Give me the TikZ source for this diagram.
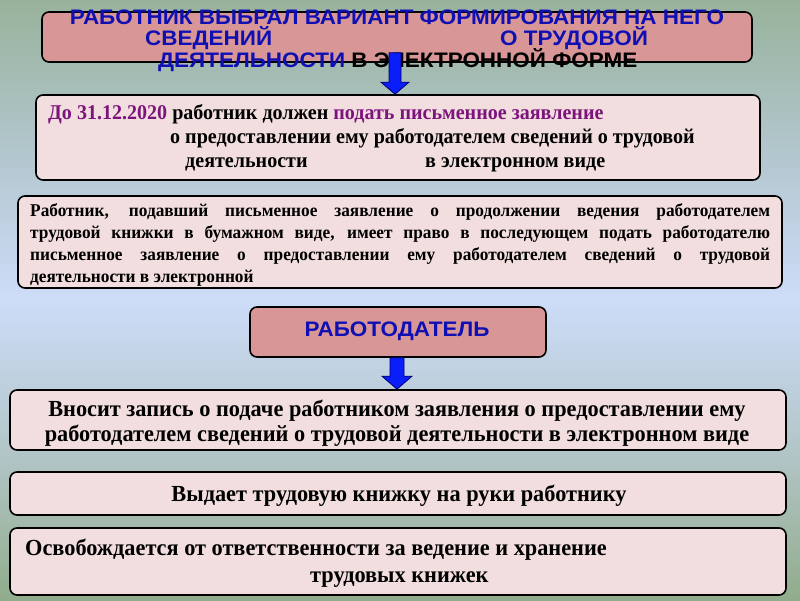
\documentclass[tikz,border=0pt]{standalone}
\usepackage{fontspec}
\setmainfont{Liberation Serif}
\newfontfamily\hdr[FakeStretch=1.07]{Liberation Sans}
\newfontfamily\serc[FakeStretch=0.955]{Liberation Serif}
\newfontfamily\serp[FakeStretch=0.96]{Liberation Serif}
\newfontfamily\serb[FakeStretch=0.97]{Liberation Serif}
\usetikzlibrary{arrows.meta,calc}
\definecolor{dpink}{RGB}{217,150,150}
\definecolor{lpink}{RGB}{242,222,222}
\definecolor{hblue}{RGB}{15,15,180}
\definecolor{purp}{RGB}{125,20,125}
\definecolor{arrblue}{RGB}{10,30,250}
\definecolor{arrdark}{RGB}{0,0,110}
\pgfdeclareverticalshading{bgshade}{100bp}{%
  color(0bp)=(rgb,255:red,145;green,172;blue,140);
  color(25bp)=(rgb,255:red,145;green,172;blue,140);
  color(37.5bp)=(rgb,255:red,178;green,198;blue,200);
  color(50bp)=(rgb,255:red,205;green,220;blue,248);
  color(62.5bp)=(rgb,255:red,178;green,198;blue,205);
  color(75bp)=(rgb,255:red,152;green,178;blue,155);
  color(100bp)=(rgb,255:red,152;green,178;blue,155)}
\tikzset{
  box/.style={draw=black, line width=1.6pt, rounded corners=7pt, inner sep=0pt},
  darkbox/.style={box, fill=dpink},
  lightbox/.style={box, fill=lpink},
  hdrtxt/.style={font=\hdr\bfseries\fontsize{21}{23}\selectfont, inner sep=0pt},
  sertxt/.style={font=\serc\bfseries\fontsize{21}{24}\selectfont, inner sep=0pt},
  partxt/.style={font=\serp\bfseries\fontsize{18}{22}\selectfont, inner sep=0pt},
  bigtxt/.style={font=\serb\bfseries\fontsize{23}{25}\selectfont, inner sep=0pt},
  blockarrow/.style={fill=arrblue, draw=arrdark, line width=0.8pt, line join=miter}
}
\begin{document}
\begin{tikzpicture}[x=1pt,y=-1pt]
\useasboundingbox (0,0) rectangle (800,600);
\shade[shading=bgshade] (0,0) rectangle (800,600);

% boxes
\node[darkbox, minimum width=710, minimum height=50] (top) at (397,37) {};
\node[lightbox, minimum width=724, minimum height=85] (b2) at (398,137.5) {};
\node[lightbox, minimum width=764, minimum height=92] (b3) at (400,242) {};
\node[darkbox, minimum width=296, minimum height=50] (emp) at (398,332) {};
\node[lightbox, minimum width=776, minimum height=60] (b5) at (398,420) {};
\node[lightbox, minimum width=776, minimum height=43] (b6) at (398,493.5) {};
\node[lightbox, minimum width=776, minimum height=67] (b7) at (398,561.5) {};

% top text
\node[hdrtxt, anchor=base, text=hblue] (t1) at (397,24) {РАБОТНИК ВЫБРАЛ ВАРИАНТ ФОРМИРОВАНИЯ НА НЕГО};
\node[hdrtxt, anchor=base west, text=hblue] (t2a) at (145,45) {СВЕДЕНИЙ};
\node[hdrtxt, anchor=base west, text=hblue] (t2b) at (500,45) {О ТРУДОВОЙ};
\node[hdrtxt, anchor=base west] (t3) at (158,67) {\textcolor{hblue}{ДЕЯТЕЛЬНОСТИ} В ЭЛЕКТРОННОЙ ФОРМЕ};

% box 2 text
\node[sertxt, anchor=base west] (l21) at (48,119) {\textcolor{purp}{До 31.12.2020} работник должен \textcolor{purp}{подать письменное заявление}};
\node[sertxt, anchor=base west] (l22) at (170,143) {о предоставлении ему работодателем сведений о трудовой};
\node[sertxt, anchor=base west] (l23a) at (185,167) {деятельности};
\node[sertxt, anchor=base west] (l23b) at (425,167) {в электронном виде};

% box 3 text
\node[partxt, anchor=base west] (p31) at (30,216) {\makebox[740pt][s]{Работник, подавший письменное заявление о продолжении ведения работодателем}};
\node[partxt, anchor=base west] (p32) at (30,238) {\makebox[740pt][s]{трудовой книжки в бумажном виде, имеет право в последующем подать работодателю}};
\node[partxt, anchor=base west] (p33) at (30,260) {\makebox[740pt][s]{письменное заявление о предоставлении ему работодателем сведений о трудовой}};
\node[partxt, anchor=base west] (p34) at (30,282) {деятельности в электронной};

% employer
\node[hdrtxt, text=hblue] (empt) at (397,331) {РАБОТОДАТЕЛЬ};

% box 5
\node[bigtxt, anchor=base] (l51) at (397,416) {Вносит запись о подаче работником заявления о предоставлении ему};
\node[bigtxt, anchor=base] (l52) at (397,441) {работодателем сведений о трудовой деятельности в электронном виде};
% box 6
\node[bigtxt, anchor=base] (l6) at (399,501) {Выдает трудовую книжку на руки работнику};
% box 7
\node[bigtxt, anchor=base west] (l71) at (25,555) {Освобождается от ответственности за ведение и хранение};
\node[bigtxt, anchor=base west] (l72) at (310,582) {трудовых книжек};

% arrows
\coordinate (a1s) at ($(top.south)+(-2,-10)$);
\coordinate (a1e) at (b2.north -| a1s);
\filldraw[blockarrow] ($(a1s)+(-6,0)$) -- ($(a1e)+(-6,-12)$) -- ($(a1e)+(-14,-12)$) -- (a1e)
  -- ($(a1e)+(14,-12)$) -- ($(a1e)+(6,-12)$) -- ($(a1s)+(6,0)$) -- cycle;
\coordinate (a2s) at ($(emp.south)+(-1,0)$);
\coordinate (a2e) at (b5.north -| a2s);
\filldraw[blockarrow] ($(a2s)+(-7,0)$) -- ($(a2e)+(-7,-13)$) -- ($(a2e)+(-15,-13)$) -- (a2e)
  -- ($(a2e)+(15,-13)$) -- ($(a2e)+(7,-13)$) -- ($(a2s)+(7,0)$) -- cycle;
\end{tikzpicture}
\end{document}
